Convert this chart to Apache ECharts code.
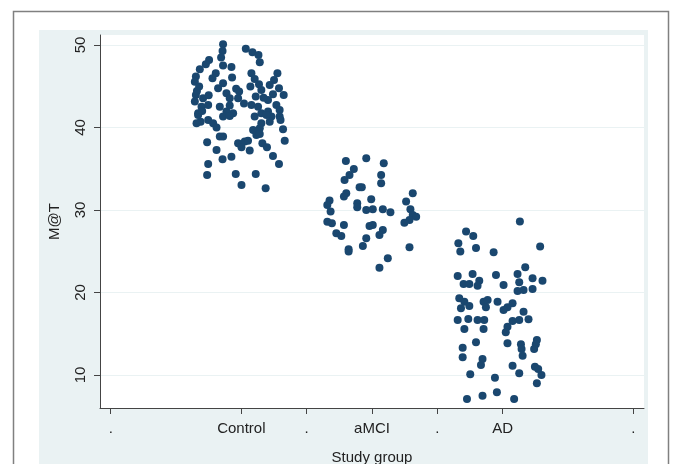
<!DOCTYPE html>
<html>
<head>
<meta charset="utf-8">
<script src="https://cdn.jsdelivr.net/npm/echarts@6/dist/echarts.min.js"></script>
<style>
html,body{margin:0;padding:0;background:#fff;}
#chart{width:673px;height:464px;}
</style>
</head>
<body>
<div id="chart"></div>
<script>
// ---- data ----
var xTickValues = [0, 1, 1.5, 2, 2.5, 3, 4];
var xTickLabels = ['.', 'Control', '.', 'aMCI', '.', 'AD', '.'];
var yTickValues = [10, 20, 30, 40, 50];

var controlPoints = [
[0.860,50.08],[0.856,49.27],[0.845,48.46],[1.034,49.52],[1.085,49.12],[1.131,48.79],[1.141,47.90],
[0.753,48.18],[0.728,47.66],[0.682,47.05],[0.860,47.49],[0.924,47.33],[0.804,46.57],[0.779,45.96],
[0.652,46.16],[0.644,45.55],[0.677,44.95],[0.929,46.04],[0.860,45.35],[0.822,44.75],[0.886,44.14],
[0.911,43.54],[0.983,44.34],[0.975,43.54],[1.077,46.57],[1.102,45.88],[1.135,45.24],[1.069,44.95],
[1.153,44.55],[1.110,43.74],[1.276,46.57],[1.250,45.76],[1.217,45.15],[1.288,44.75],[1.324,43.94],
[1.242,44.02],[1.204,43.33],[0.652,43.94],[0.644,43.13],[0.707,43.54],[0.695,42.52],[0.669,41.72],
[0.746,42.73],[0.835,42.52],[0.886,41.92],[0.937,41.72],[0.911,42.65],[1.077,42.73],[1.128,42.52],
[1.153,41.72],[1.102,41.31],[1.204,41.92],[1.268,42.73],[1.293,42.12],[1.230,41.31],[1.293,41.31],
[0.669,41.52],[0.688,40.70],[0.657,40.50],[0.746,40.91],[0.784,40.50],[0.860,41.31],[0.911,41.39],
[1.192,41.52],[1.153,40.50],[1.217,40.70],[1.141,39.90],[1.090,39.70],[1.319,39.78],[1.332,38.40],
[1.115,39.09],[1.141,39.21],[0.835,38.89],[0.860,38.89],[0.738,38.20],[0.975,38.08],[1.026,38.28],
[1.051,38.40],[1.001,37.60],[0.810,37.27],[1.064,37.19],[1.161,38.08],[1.196,37.60],[1.242,36.55],
[1.288,35.58],[0.924,36.46],[0.856,36.14],[0.746,35.58],[0.738,34.24],[0.957,34.36],[1.110,34.36],
[1.001,33.03],[1.186,32.63],
[0.66,44.4],[0.70,42.0],[0.75,43.9],[0.96,44.7],[1.02,42.9],[1.17,43.6],[1.30,40.9],[0.81,40.0]
];

var amciPoints = [
[1.800,35.94],[1.956,36.26],[2.090,35.66],[1.861,34.97],[1.828,34.24],[1.790,33.64],[2.070,34.24],
[2.070,33.24],[1.905,32.75],[1.922,32.75],[1.803,32.02],[1.785,31.62],[1.675,31.13],[1.658,30.61],
[1.683,29.80],[1.887,30.81],[1.887,30.33],[1.994,31.29],[1.956,30.00],[2.006,30.08],[2.083,30.08],
[2.141,29.72],[2.261,31.01],[2.312,32.02],[2.294,30.08],[2.312,29.39],[2.338,29.19],[2.287,28.79],
[2.248,28.46],[1.658,28.58],[1.693,28.38],[1.785,28.18],[1.727,27.17],[1.765,26.85],[1.981,28.06],
[2.006,28.18],[2.083,27.58],[2.057,26.97],[1.956,26.57],[1.930,25.64],[1.821,25.24],[1.821,24.95],
[2.287,25.48],[2.121,24.14],[2.057,23.01]
];

var adPoints = [
[3.132,28.59],[2.720,27.38],[2.775,26.85],[2.661,25.96],[2.676,24.95],[2.796,25.39],[2.931,24.87],
[3.287,25.56],[2.656,22.00],[2.770,22.24],[2.701,21.03],[2.745,21.03],[2.821,21.43],[2.808,20.82],
[2.949,22.12],[3.007,20.91],[3.114,22.24],[3.173,23.05],[3.127,21.23],[3.229,21.72],[3.305,21.43],
[3.114,20.18],[3.160,20.30],[3.229,20.42],[2.668,19.30],[2.707,18.89],[2.745,18.36],[2.681,18.08],
[2.854,18.89],[2.885,19.09],[2.872,18.20],[2.961,18.89],[3.076,18.69],[3.037,18.20],[3.007,17.88],
[3.160,17.67],[2.656,16.67],[2.737,16.79],[2.808,16.67],[2.859,16.67],[2.707,15.58],[2.854,15.58],
[3.076,16.55],[3.127,16.67],[3.198,16.75],[3.037,15.86],[3.024,15.18],[2.796,13.96],[3.037,13.84],
[2.694,13.31],[2.694,12.14],[3.140,13.72],[3.145,13.15],[3.153,12.34],[3.262,14.24],[3.254,13.72],
[3.241,13.15],[2.846,11.94],[2.834,11.21],[3.076,11.13],[3.127,10.21],[3.247,11.01],[3.272,10.73],
[3.297,10.00],[3.262,8.99],[2.752,10.09],[2.941,9.67],[2.727,7.09],[2.846,7.49],[2.956,7.90],[3.088,7.09]
];

// ---- chart ----
var FONT = "'Liberation Sans', Arial, sans-serif";
var chart = echarts.init(document.getElementById('chart'));
var dotStyle = {color: '#1a476f', opacity: 1};
function scatter(name, pts) {
  return {type: 'scatter', name: name, data: pts, symbol: 'circle', symbolSize: 8,
          itemStyle: dotStyle, emphasis: {disabled: true}, silent: true};
}
chart.setOption({
  animation: false,
  backgroundColor: '#ffffff',
  graphic: [
    {type: 'rect', z: -10, shape: {x: 39, y: 30, width: 609, height: 440}, style: {fill: '#eaf2f3'}},
    {type: 'rect', z: 100, shape: {x: 13.5, y: 11.5, width: 655, height: 470}, style: {fill: 'none', stroke: '#808080', lineWidth: 1.5}}
  ],
  grid: {left: 100, right: 29, top: 35, bottom: 56, show: true, backgroundColor: '#ffffff', borderWidth: 0,
         containLabel: false, outerBoundsMode: 'none'},
  xAxis: {
    type: 'value', min: -0.082, max: 4.082,
    name: 'Study group', nameLocation: 'middle', nameGap: 42,
    nameTextStyle: {fontFamily: FONT, fontSize: 15, color: '#222'},
    axisLine: {show: true, onZero: false, lineStyle: {color: '#444', width: 1}},
    axisTick: {show: true, customValues: xTickValues, length: 6, lineStyle: {color: '#444'}},
    axisLabel: {customValues: xTickValues, margin: 13, fontFamily: FONT, fontSize: 15, color: '#222',
      formatter: function (v) { var i = xTickValues.indexOf(v); return i >= 0 ? xTickLabels[i] : ''; }},
    splitLine: {show: false}
  },
  yAxis: {
    type: 'value', min: 6, max: 51.2,
    name: 'M@T', nameLocation: 'middle', nameGap: 38,
    nameTextStyle: {fontFamily: FONT, fontSize: 15, color: '#222'},
    axisLine: {show: true, onZero: false, lineStyle: {color: '#444', width: 1}},
    axisTick: {show: true, customValues: yTickValues, length: 6, lineStyle: {color: '#444'}},
    axisLabel: {customValues: yTickValues, rotate: 90, margin: 12, fontFamily: FONT, fontSize: 15, color: '#222'},
    splitLine: {show: true, lineStyle: {color: '#eaf2f3', width: 1.2}}
  },
  series: [scatter('Control', controlPoints), scatter('aMCI', amciPoints), scatter('AD', adPoints)]
});
</script>
</body>
</html>
